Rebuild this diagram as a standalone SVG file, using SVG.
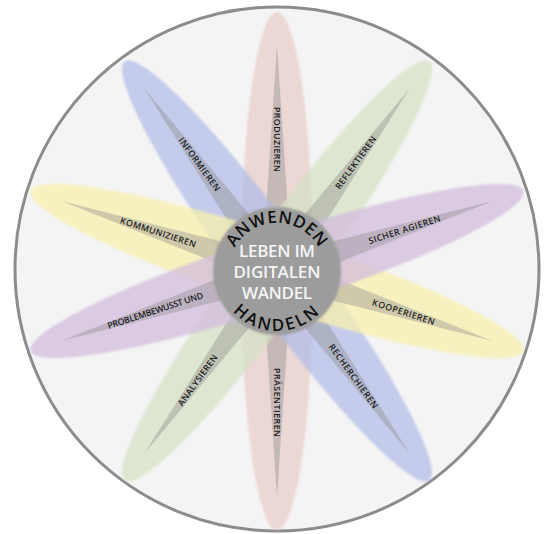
<svg xmlns="http://www.w3.org/2000/svg" width="549" height="534" viewBox="0 0 549 534">
<defs>
<style>
.lbl{font-family:"Open Sans","DejaVu Sans",sans-serif;font-size:8.8px;font-weight:600;fill:#1c1c1c;text-anchor:middle}
.spike{fill:#8a8a8a;fill-opacity:0.38}
.arc{font-family:"Open Sans","DejaVu Sans",sans-serif;font-size:17px;font-weight:600;fill:#111}
.core{font-family:"Open Sans","DejaVu Sans",sans-serif;font-size:17px;font-weight:600;fill:#f4f4f4;text-anchor:middle}
</style>
<filter id="soft" x="-5%" y="-30%" width="110%" height="160%"><feGaussianBlur stdDeviation="1.3"/></filter>
<filter id="soft2" x="-10%" y="-10%" width="120%" height="120%"><feGaussianBlur stdDeviation="1"/></filter>
<path id="topArc" d="M 229,271 A 48 48 0 0 1 325,271"/>
<path id="botArc" d="M 217,271 A 60 60 0 0 0 337,271"/>
</defs>
<rect width="549" height="534" fill="#ffffff"/>
<circle cx="277" cy="269" r="262" fill="#f4f4f4" stroke="#8c8c8c" stroke-width="3"/>

<g id="petal-red" transform="translate(277,271) rotate(90)">
<ellipse rx="259" ry="36" fill="#e8cdca" fill-opacity="0.75" filter="url(#soft)"/>
<polygon class="spike" points="226,0 0,15 -226,0 0,-15"/>
<text class="lbl" x="-131.5" y="3.1" textLength="65">PRODUZIEREN</text>
<text class="lbl" x="131.5" y="3.1" textLength="69">PRÄSENTIEREN</text>
</g>
<g id="petal-blue" transform="translate(277,271) rotate(54)">
<ellipse rx="259" ry="36" fill="#b2bbe8" fill-opacity="0.72" filter="url(#soft)"/>
<polygon class="spike" points="226,0 0,15 -226,0 0,-15"/>
<text class="lbl" x="-132" y="3.1" textLength="64">INFORMIEREN</text>
<text class="lbl" x="130" y="3.1" textLength="77">RECHERCHIEREN</text>
</g>
<g id="petal-green" transform="translate(277,271) rotate(-54)">
<ellipse rx="259" ry="36" fill="#d6e2c6" fill-opacity="0.75" filter="url(#soft)"/>
<polygon class="spike" points="226,0 0,15 -226,0 0,-15"/>
<text class="lbl" x="134" y="3.1" textLength="63">REFLEKTIEREN</text>
<text class="lbl" x="-135" y="3.1" textLength="61">ANALYSIEREN</text>
</g>
<g id="petal-yellow" transform="translate(277,271) rotate(18)">
<ellipse rx="259" ry="36" fill="#f8f0ad" fill-opacity="0.75" filter="url(#soft)"/>
<polygon class="spike" points="226,0 0,15 -226,0 0,-15"/>
<text class="lbl" x="-125" y="3.1" textLength="79">KOMMUNIZIEREN</text>
<text class="lbl" x="133" y="3.1" textLength="65">KOOPERIEREN</text>
</g>
<g id="petal-purple" transform="translate(277,271) rotate(-18)">
<ellipse rx="259" ry="36" fill="#d2bcdc" fill-opacity="0.75" filter="url(#soft)"/>
<polygon class="spike" points="226,0 0,15 -226,0 0,-15"/>
<text class="lbl" x="134" y="3.1" textLength="75">SICHER AGIEREN</text>
<text class="lbl" x="-128" y="3.1" textLength="100">PROBLEMBEWUSST UND</text>
</g>

<g id="hub">
<circle cx="277" cy="271" r="64" fill="#9c9c9c" filter="url(#soft2)"/>
<text class="arc"><textPath href="#topArc" startOffset="50%" text-anchor="middle" letter-spacing="0.5">ANWENDEN</textPath></text>
<text class="arc"><textPath href="#botArc" startOffset="50%" text-anchor="middle" letter-spacing="2.5">HANDELN</textPath></text>
<text class="core" x="277" y="257" textLength="76">LEBEN IM</text>
<text class="core" x="277" y="278" textLength="87">DIGITALEN</text>
<text class="core" x="277" y="299" textLength="70">WANDEL</text>
</g>
<g id="connectors"></g>
</svg>
